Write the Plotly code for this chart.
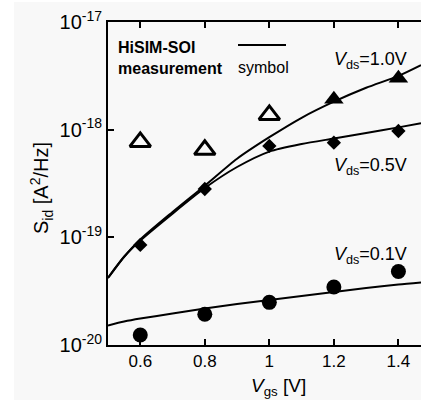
import plotly.graph_objects as go

# ---------------- data ----------------
vgs_meas = [0.6, 0.8, 1.0, 1.2, 1.4]
# Vds = 1.0 V measurement: open triangles (0.6-1.0), filled triangles (1.2-1.4)
vgs_open_tri = [0.6, 0.8, 1.0]
sid_open_tri = [7.7e-19, 6.5e-19, 1.37e-18]
vgs_fill_tri = [1.2, 1.4]
sid_fill_tri = [1.92e-18, 3.01e-18]
# Vds = 0.5 V measurement: diamonds
sid_diamond = [8.5e-20, 2.81e-19, 7.06e-19, 7.57e-19, 9.72e-19]
# Vds = 0.1 V measurement: circles
sid_circle = [1.24e-20, 1.93e-20, 2.49e-20, 3.46e-20, 4.81e-20]

# HiSIM-SOI model curves
vgs_model = [0.5, 0.55, 0.6, 0.7, 0.8, 0.9, 1.0, 1.1, 1.2, 1.3, 1.4, 1.47]
sid_model_10 = [4.20e-20, 6.6e-20, 9.55e-20, 1.72e-19, 3.02e-19, 5.37e-19,
                8.51e-19, 1.29e-18, 1.82e-18, 2.45e-18, 3.16e-18, 3.98e-18]
sid_model_05 = [4.20e-20, 6.6e-20, 9.33e-20, 1.66e-19, 2.87e-19, 4.50e-19,
                6.26e-19, 7.36e-19, 8.28e-19, 9.31e-19, 1.05e-18, 1.15e-18]
sid_model_01 = [1.52e-20, 1.65e-20, 1.76e-20, 1.96e-20, 2.18e-20, 2.40e-20,
                2.62e-20, 2.85e-20, 3.10e-20, 3.38e-20, 3.65e-20, 3.81e-20]

x_ticks = [0.6, 0.8, 1.0, 1.2, 1.4]
x_ticktext = ["0.6", "0.8", "1", "1.2", "1.4"]
y_ticks = [1e-20, 1e-19, 1e-18, 1e-17]
y_ticktext = ["10<sup>-20</sup>", "10<sup>-19</sup>", "10<sup>-18</sup>", "10<sup>-17</sup>"]

# ---------------- figure ----------------
W, H = 421, 400
ML, MR, MT, MB = 108, 0, 22, 55
PW, PH = W - ML - MR, H - MT - MB


def px2x(px):
    return (px - ML) / PW


def py2y(py):
    return (H - MB - py) / PH


FONT = "Liberation Sans, Arial, Helvetica, sans-serif"
fig = go.Figure()

for yv in (sid_model_10, sid_model_05, sid_model_01):
    fig.add_trace(go.Scatter(x=vgs_model, y=yv, mode="lines",
                             line=dict(color="black", width=2, shape="spline", smoothing=0.7),
                             hoverinfo="skip", showlegend=False))

fig.add_trace(go.Scatter(x=vgs_open_tri, y=sid_open_tri, mode="markers",
                         marker=dict(symbol="triangle-up-open", size=18, color="black",
                                     line=dict(width=3, color="black")),
                         showlegend=False))
fig.add_trace(go.Scatter(x=vgs_fill_tri, y=sid_fill_tri, mode="markers",
                         marker=dict(symbol="triangle-up", size=17, color="black"),
                         showlegend=False))
fig.add_trace(go.Scatter(x=vgs_meas, y=sid_diamond, mode="markers",
                         marker=dict(symbol="diamond", size=11, color="black"),
                         showlegend=False))
fig.add_trace(go.Scatter(x=vgs_meas, y=sid_circle, mode="markers",
                         marker=dict(symbol="circle", size=15, color="black"),
                         showlegend=False))

bg = "#f8f8f8"
fig.update_layout(
    width=W, height=H,
    margin=dict(l=ML, r=MR, t=MT, b=MB, pad=0),
    paper_bgcolor=bg, plot_bgcolor=bg,
    font=dict(family=FONT, color="black"),
    xaxis=dict(range=[0.5, 1.47], tickvals=x_ticks, ticktext=x_ticktext,
               ticks="inside", ticklen=6, tickwidth=2, tickcolor="black",
               showline=True, linewidth=2, linecolor="black", mirror="ticks",
               showgrid=False, zeroline=False, tickfont=dict(size=17, family=FONT)),
    yaxis=dict(type="log", range=[-20, -17], tickvals=y_ticks, ticktext=y_ticktext,
               ticks="inside", ticklen=6, tickwidth=2, tickcolor="black",
               showline=True, linewidth=2, linecolor="black", mirror=False,
               showgrid=False, zeroline=False, tickfont=dict(size=20, family=FONT)),
)

shapes = [
    dict(type="rect", xref="paper", yref="paper", x0=px2x(0), x1=px2x(14),
         y0=py2y(H), y1=py2y(0), fillcolor="white", line=dict(width=0), layer="below"),
    dict(type="rect", xref="paper", yref="paper", x0=px2x(0), x1=px2x(W),
         y0=py2y(2), y1=py2y(0), fillcolor="white", line=dict(width=0), layer="below"),
    dict(type="line", xref="paper", yref="paper", x0=px2x(238), x1=px2x(286),
         y0=py2y(45), y1=py2y(45), line=dict(color="black", width=2)),
]
fig.update_layout(shapes=shapes)

ann = []


def add_text(text, px, py, size, xanchor="left", yanchor="middle", angle=0):
    ann.append(dict(text=text, xref="paper", yref="paper", x=px2x(px), y=py2y(py),
                    xanchor=xanchor, yanchor=yanchor, showarrow=False, textangle=angle,
                    font=dict(size=size, family=FONT, color="black")))


add_text("<b>HiSIM-SOI</b>", 116, 47, 16)
add_text("<b>measurement</b>", 116, 68, 16)
add_text("symbol", 236, 67, 16)
add_text("<i>V</i><sub>ds</sub>=1.0V", 332, 60, 18)
add_text("<i>V</i><sub>ds</sub>=0.5V", 332, 166, 18)
add_text("<i>V</i><sub>ds</sub>=0.1V", 332, 256, 18)
add_text("<i>V</i><sub>gs</sub> [V]", 278, 387, 19, xanchor="center")
add_text("S<sub>id</sub> [A<sup>2</sup>/Hz]", 42, 188, 20, xanchor="center", angle=-90)
fig.update_layout(annotations=ann)

fig.write_html("out.html")
